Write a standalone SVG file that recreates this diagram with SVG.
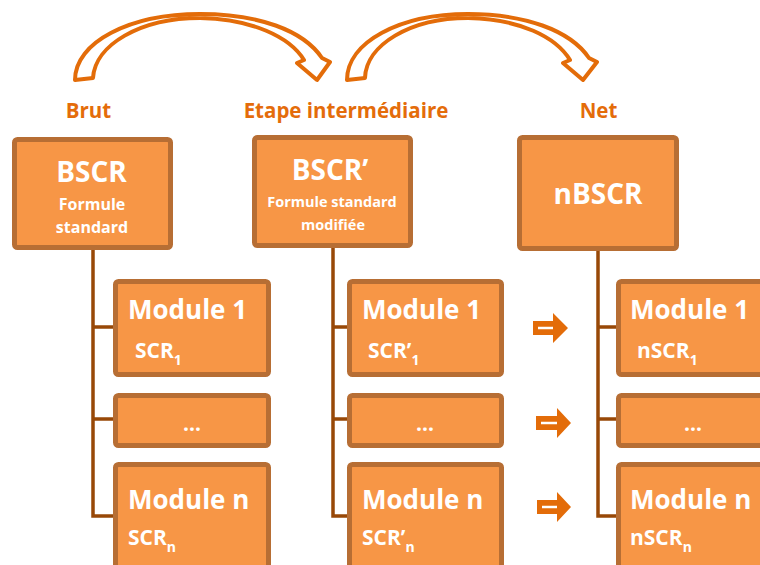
<svg xmlns="http://www.w3.org/2000/svg" width="760" height="565" viewBox="0 0 760 565">
<style>
.box{fill:#F79646;stroke:#B76E34;stroke-width:5}
.con{fill:none;stroke:#984807;stroke-width:3.5}
.lbl{font-family:"Open Sans","Liberation Sans",sans-serif;font-weight:bold;fill:#E46C0A;font-size:20.5px;text-anchor:middle}
.t{font-family:"Open Sans","Liberation Sans",sans-serif;font-weight:bold;fill:#FFFFFF}
.big{font-size:28px}
.mod{font-size:26px}
.scr{font-size:21px}
.sub{font-size:14px}
.mid{text-anchor:middle}
.curve{fill:#FFFFFF;stroke:#E36C09;stroke-width:4;stroke-linejoin:round}
.sa{fill:#E36C09}
.sl{stroke:#FFFFFF;stroke-width:2.5}
</style>
<rect width="760" height="565" fill="#FFFFFF"/>

<g id="curved-arrows">
<path class="curve" d="M75,80 C75,42 130,14 200,14 C258,14 303,30 322,58 L330,62 L317,80 L297,63 L304,60 C290,37 252,19 200,18 C140,18 95,45 93,78 Z"/>
<path class="curve" d="M347,80 C347,42 400,14 468,14 C524,14 570,30 589,58 L597,62 L583,80 L563,63 L570,60 C556,37 520,19 468,18 C410,18 366,45 365,78 Z"/>
</g>

<g id="labels">
<text class="lbl" x="88.5" y="118">Brut</text>
<text class="lbl" x="346" y="118">Etape intermédiaire</text>
<text class="lbl" x="598.5" y="118">Net</text>
</g>

<g id="connectors">
<path class="con" d="M93,250 V516 H115 M93,327 H115 M93,419 H115"/>
<path class="con" d="M333,248 V516 H349 M333,327 H349 M333,419 H349"/>
<path class="con" d="M598,251 V516 H618 M598,327 H618 M598,419 H618"/>
</g>

<g id="bscr">
<rect class="box" x="14.5" y="139.5" width="156" height="108" rx="3"/>
<text class="t big mid" x="91.5" y="182">BSCR</text>
<text class="t mid" font-size="16" x="92" y="210">Formule</text>
<text class="t mid" font-size="16" x="92" y="233">standard</text>
</g>

<g id="bscr-prime">
<rect class="box" x="254.5" y="137.5" width="156" height="108" rx="3"/>
<text class="t big mid" x="330" y="180">BSCR’</text>
<text class="t mid" font-size="14.5" x="332" y="207">Formule standard</text>
<text class="t mid" font-size="14.5" x="333" y="230">modifiée</text>
</g>

<g id="nbscr">
<rect class="box" x="519.5" y="137.5" width="157" height="111" rx="3"/>
<text class="t big mid" x="598" y="204">nBSCR</text>
</g>

<g id="c1-module1">
<rect class="box" x="115.5" y="281.5" width="153" height="93" rx="3"/>
<text class="t mod" x="128" y="319">Module 1</text>
<text class="t scr" x="135" y="358">SCR<tspan class="sub" dy="7">1</tspan></text>
</g>
<g id="c1-dots">
<rect class="box" x="115.5" y="395.5" width="153" height="50" rx="3"/>
<text class="t scr mid" x="192" y="431">…</text>
</g>
<g id="c1-modulen">
<rect class="box" x="115.5" y="464.5" width="153" height="120" rx="3"/>
<text class="t mod" x="128" y="509">Module n</text>
<text class="t scr" x="128" y="545">SCR<tspan class="sub" dy="7">n</tspan></text>
</g>

<g id="c2-module1">
<rect class="box" x="349.5" y="281.5" width="152" height="93" rx="3"/>
<text class="t mod" x="362" y="319">Module 1</text>
<text class="t scr" x="368" y="358">SCR’<tspan class="sub" dy="7">1</tspan></text>
</g>
<g id="c2-dots">
<rect class="box" x="349.5" y="395.5" width="152" height="50" rx="3"/>
<text class="t scr mid" x="425" y="431">…</text>
</g>
<g id="c2-modulen">
<rect class="box" x="349.5" y="464.5" width="152" height="120" rx="3"/>
<text class="t mod" x="362" y="509">Module n</text>
<text class="t scr" x="362" y="545">SCR’<tspan class="sub" dy="7">n</tspan></text>
</g>

<g id="c3-module1">
<rect class="box" x="618.5" y="281.5" width="160" height="93" rx="3"/>
<text class="t mod" x="630" y="319">Module 1</text>
<text class="t scr" x="637" y="358">nSCR<tspan class="sub" dy="7">1</tspan></text>
</g>
<g id="c3-dots">
<rect class="box" x="618.5" y="395.5" width="160" height="50" rx="3"/>
<text class="t scr mid" x="693" y="431">…</text>
</g>
<g id="c3-modulen">
<rect class="box" x="618.5" y="464.5" width="160" height="120" rx="3"/>
<text class="t mod" x="630" y="509">Module n</text>
<text class="t scr" x="630" y="545">nSCR<tspan class="sub" dy="7">n</tspan></text>
</g>

<g id="small-arrows">
<path class="sa" d="M533,321 H553 V313 L568,328 L553,343 V335 H533 Z"/>
<line class="sl" x1="538" y1="328" x2="553" y2="328"/>
<path class="sa" d="M536,416 H557 V408 L571,423 L557,438 V430 H536 Z"/>
<line class="sl" x1="541" y1="423" x2="557" y2="423"/>
<path class="sa" d="M537,500 H557 V492 L571,507 L557,522 V514 H537 Z"/>
<line class="sl" x1="542" y1="507" x2="557" y2="507"/>
</g>
</svg>
